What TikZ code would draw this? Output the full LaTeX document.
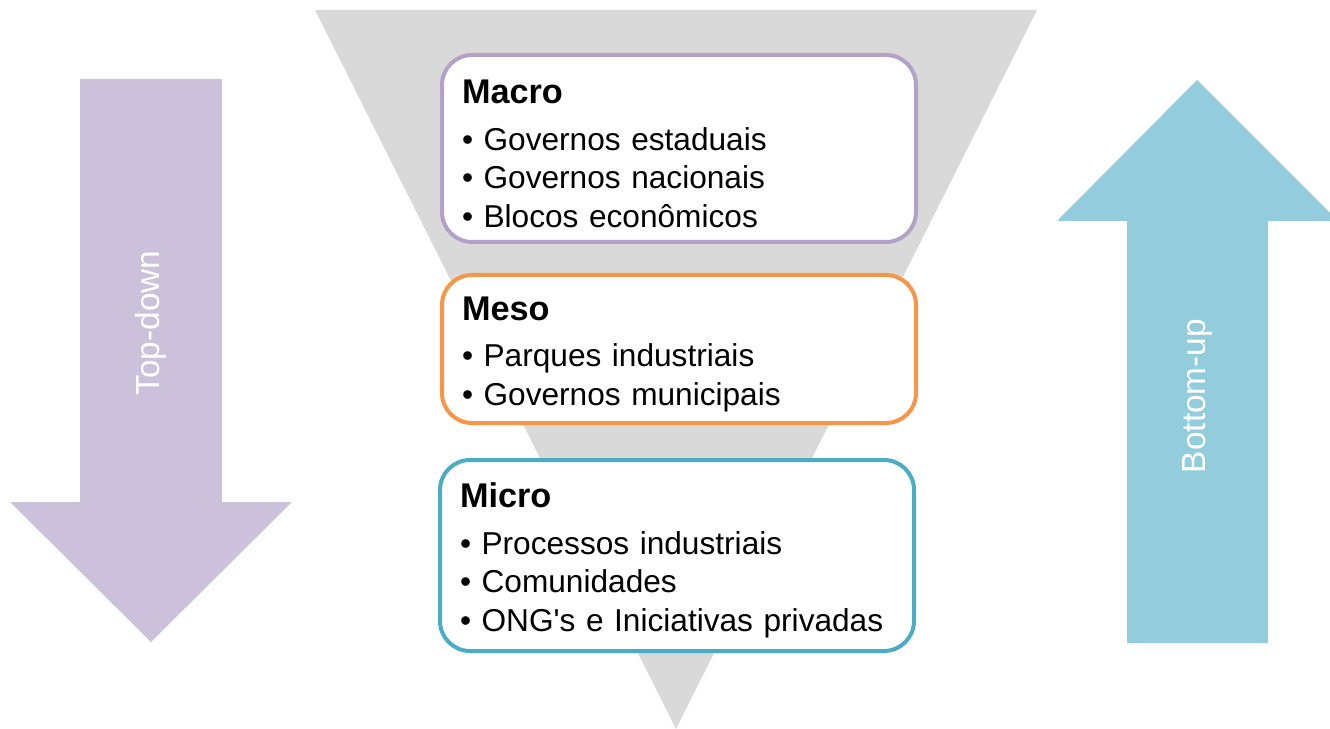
\documentclass[tikz,border=0pt]{standalone}
\usepackage{fontspec}
\setmainfont{Liberation Sans}
\usetikzlibrary{positioning}
\definecolor{funil}{HTML}{D9D9D9}
\definecolor{lilas}{HTML}{CCC1DA}
\definecolor{lilasborda}{HTML}{B3A2C7}
\definecolor{laranja}{HTML}{F79646}
\definecolor{azul}{HTML}{4BACC6}
\definecolor{azulclaro}{HTML}{93CDDD}
\newcommand{\titulo}[1]{{\fontsize{19.5}{21.9}\selectfont\bfseries #1}}
\tikzset{
  level/.style={draw, line width=0.8mm, rounded corners=6mm, fill=white,
    text width=86.8mm, inner xsep=4mm, align=left, text height=6.8mm,
    font=\fontsize{18}{21.9}\selectfont},
  arrowlabel/.style={rotate=90, text=white, font=\fontsize{19}{22}\selectfont}
}

\begin{document}
\begin{tikzpicture}[x=0.2mm, y=-0.2mm]
		\useasboundingbox (0,0) rectangle (1330,729);
		\clip (0,0) rectangle (1330,729);
		% funil ao fundo
		\fill[funil] (315,10) -- (1037,10) -- (676,729) -- cycle;
		% setas laterais
		\fill[lilas] (80,79) -- (222,79) -- (222,502) -- (292,502) -- (151,642) -- (10,502) -- (80,502) -- cycle;
		\fill[azulclaro] (1127,643) -- (1127,221) -- (1057,221) -- (1197,80) -- (1338,221) -- (1268,221) -- (1268,643) -- cycle;
		\node[arrowlabel] (topdown) at (151,323) {Top-down};
		\node[arrowlabel] (bottomup) at (1197,396) {Bottom-up};
		% niveis
		\node[level, draw=lilasborda, minimum height=37.4mm] (macro) at (679,148.5) {\titulo{Macro}\\[4.8pt]
			\textbullet\ Governos estaduais\\
			\textbullet\ Governos nacionais\\
			\textbullet\ Blocos econômicos};
		\node[level, draw=laranja, minimum height=29.6mm, below=5.8mm of macro] (meso) {\titulo{Meso}\\[4.8pt]
			\textbullet\ Parques industriais\\
			\textbullet\ Governos municipais};
		\node[level, draw=azul, minimum height=38.2mm, below=6.6mm of meso, xshift=-0.4mm] (micro) {\titulo{Micro}\\[4.8pt]
			\textbullet\ Processos industriais\\
			\textbullet\ Comunidades\\
			\textbullet\ ONG\textquotesingle s e Iniciativas privadas};
	\end{tikzpicture}
\end{document}
